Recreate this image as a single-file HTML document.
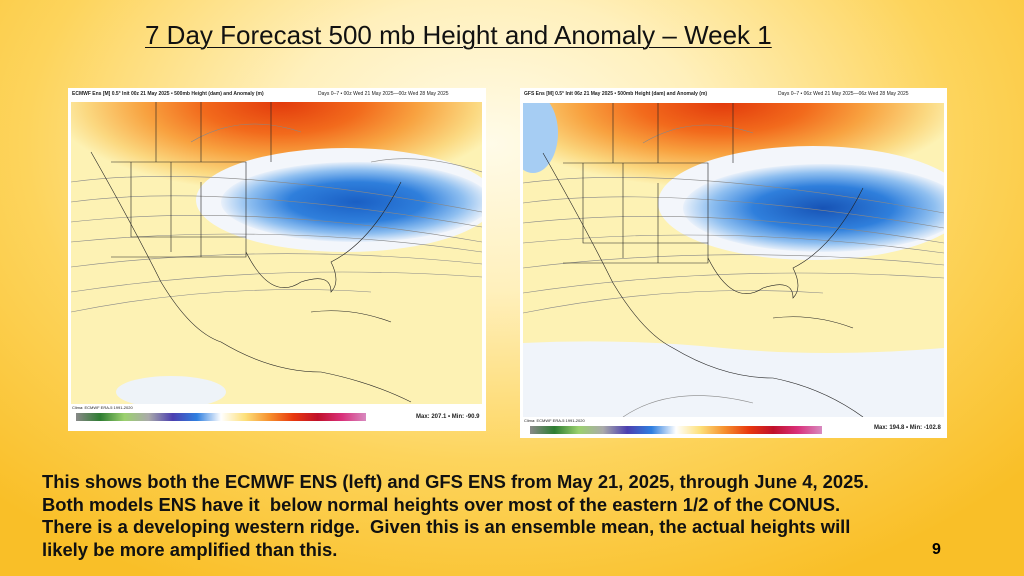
<!DOCTYPE html>
<html><head><meta charset="utf-8"><style>
html,body{margin:0;padding:0}
body{width:1024px;height:576px;overflow:hidden;position:relative;
background:radial-gradient(ellipse 70% 85% at 48% 25%,#fffbe8 0%,#fff0bc 30%,#fdd45c 65%,#f9bf28 100%);
font-family:"Liberation Sans",sans-serif}
.title{position:absolute;left:145px;top:20px;font-size:26px;color:#111;white-space:nowrap}
.title span{text-decoration:underline;text-underline-offset:3px;text-decoration-thickness:1px}
.frame{position:absolute;background:#fff}
.hdr{position:absolute;font-size:5px;color:#222;white-space:nowrap;font-weight:bold}
.body{position:absolute;left:42px;top:471px;font-weight:bold;font-size:18.4px;line-height:22.5px;color:#111;width:960px;white-space:nowrap}
.num{position:absolute;left:932px;top:541px;font-weight:bold;font-size:16px}
</style></head><body>
<div class="title"><span>7 Day Forecast 500 mb Height and Anomaly – Week 1</span></div>

<div class="frame" style="left:68px;top:88px;width:418px;height:343px">
<div class="hdr" style="left:4px;top:3px">ECMWF Ens [M] 0.5° Init 00z 21 May 2025 • 500mb Height (dam) and Anomaly (m)</div>
<div class="hdr" style="left:250px;top:3px;font-weight:normal">Days 0–7 • 00z Wed 21 May 2025—00z Wed 28 May 2025</div>
<svg style="position:absolute;left:3px;top:14px" width="411" height="302" viewBox="0 0 411 302">
<defs>
<radialGradient id="r1" cx="0.5" cy="0.5" r="0.5"><stop offset="0" stop-color="#e23a0c"/><stop offset="0.35" stop-color="#f26a1c"/><stop offset="0.6" stop-color="#f8a240"/><stop offset="0.85" stop-color="#fbd880"/><stop offset="1" stop-color="#fdf2b4"/></radialGradient>
<radialGradient id="b1" cx="0.5" cy="0.5" r="0.5"><stop offset="0" stop-color="#1a5fc4"/><stop offset="0.5" stop-color="#2f7fdc"/><stop offset="0.8" stop-color="#8fbff0"/><stop offset="1" stop-color="#e8f0fa"/></radialGradient>
</defs>
<rect width="411" height="302" fill="#fdf2b4"/>
<ellipse cx="210" cy="0" rx="230" ry="90" fill="url(#r1)"/>
<ellipse cx="275" cy="98" rx="150" ry="52" fill="#f3f6fb"/>
<ellipse cx="285" cy="100" rx="135" ry="40" fill="url(#b1)"/>
<ellipse cx="100" cy="290" rx="55" ry="16" fill="#eef3f8"/>
<g fill="none" stroke="#888" stroke-width="0.6">
<path d="M0 80 Q150 60 411 110"/><path d="M0 100 Q150 80 411 125"/><path d="M0 120 Q180 100 411 140"/><path d="M0 140 Q200 120 411 150"/><path d="M0 165 Q200 140 411 162"/><path d="M0 190 Q200 160 411 175"/><path d="M0 210 Q150 180 300 190"/><path d="M120 40 Q170 10 230 30"/><path d="M300 60 Q350 50 411 70"/>
</g>
<g fill="none" stroke="#222" stroke-width="0.6">
<path d="M40 60 L175 60 L175 155 L40 155"/><path d="M60 60 L60 135 L175 135"/><path d="M100 60 L100 150"/><path d="M130 80 L130 155"/>
<path d="M20 50 Q60 120 90 180 Q120 230 150 240 Q200 270 250 270 Q300 280 340 300"/>
<path d="M175 150 Q200 200 230 180 Q260 170 260 190 Q270 180 260 160 Q300 140 330 80"/>
<path d="M240 210 Q280 205 320 220"/><path d="M130 0 L130 60 M85 0 L85 60 M200 0 L200 60"/>
</g>
</svg>
<div class="hdr" style="left:4px;top:317px;font-weight:normal;font-size:4px">Clima: ECMWF ERA-5 1991-2020</div>
<div style="position:absolute;left:8px;top:325px;width:290px;height:8px;background:linear-gradient(90deg,#888,#2e7d32,#9bd16e,#aaa,#4b3fb0,#2f7fe0,#fff,#fde07a,#f6902e,#e8380e,#c0102a,#d9307a,#d88ac0)"></div>
<div class="hdr" style="left:348px;top:326px;font-size:6px">Max: 207.1 • Min: -90.9</div>
</div>

<div class="frame" style="left:520px;top:88px;width:427px;height:350px">
<div class="hdr" style="left:4px;top:3px">GFS Ens [M] 0.5° Init 06z 21 May 2025 • 500mb Height (dam) and Anomaly (m)</div>
<div class="hdr" style="left:258px;top:3px;font-weight:normal">Days 0–7 • 06z Wed 21 May 2025—06z Wed 28 May 2025</div>
<svg style="position:absolute;left:3px;top:15px" width="421" height="314" viewBox="0 0 421 314">
<defs>
<radialGradient id="r2" cx="0.5" cy="0.5" r="0.5"><stop offset="0" stop-color="#e23a0c"/><stop offset="0.35" stop-color="#f26a1c"/><stop offset="0.6" stop-color="#f8a240"/><stop offset="0.85" stop-color="#fbd880"/><stop offset="1" stop-color="#fdf2b4"/></radialGradient>
<radialGradient id="b2" cx="0.5" cy="0.5" r="0.5"><stop offset="0" stop-color="#1753b5"/><stop offset="0.5" stop-color="#2f7fdc"/><stop offset="0.8" stop-color="#8fbff0"/><stop offset="1" stop-color="#e8f0fa"/></radialGradient>
</defs>
<rect width="421" height="314" fill="#f0f4fa"/>
<path d="M0 20 Q30 10 60 0 L421 0 L421 245 Q300 255 200 245 Q100 235 0 240 Z" fill="#fdf2b4"/>
<ellipse cx="200" cy="0" rx="240" ry="85" fill="url(#r2)"/>
<ellipse cx="290" cy="100" rx="155" ry="57" fill="#f3f6fb"/>
<ellipse cx="300" cy="105" rx="140" ry="44" fill="url(#b2)"/>
<ellipse cx="10" cy="30" rx="25" ry="40" fill="#a6cdf3"/>
<g fill="none" stroke="#888" stroke-width="0.6">
<path d="M0 80 Q150 60 421 110"/><path d="M0 100 Q150 80 421 125"/><path d="M0 120 Q180 100 421 140"/><path d="M0 140 Q200 120 421 150"/><path d="M0 165 Q200 140 421 162"/><path d="M0 190 Q200 160 421 175"/><path d="M0 210 Q150 180 300 190"/><path d="M100 314 Q150 280 230 300"/><path d="M120 40 Q170 10 230 30"/>
</g>
<g fill="none" stroke="#222" stroke-width="0.6">
<path d="M40 60 L185 60 L185 160 L40 160"/><path d="M60 60 L60 140 L185 140"/><path d="M100 60 L100 155"/><path d="M135 80 L135 160"/>
<path d="M20 50 Q60 120 90 180 Q120 230 150 245 Q200 275 250 275 Q300 285 340 314"/>
<path d="M185 155 Q210 205 240 185 Q270 175 270 195 Q280 185 270 165 Q310 145 340 85"/>
<path d="M250 215 Q290 210 330 225"/><path d="M135 0 L135 60 M90 0 L90 60 M210 0 L210 60"/>
</g>
</svg>
<div class="hdr" style="left:4px;top:330px;font-weight:normal;font-size:4px">Clima: ECMWF ERA-5 1991-2020</div>
<div style="position:absolute;left:10px;top:338px;width:292px;height:8px;background:linear-gradient(90deg,#888,#2e7d32,#9bd16e,#aaa,#4b3fb0,#2f7fe0,#fff,#fde07a,#f6902e,#e8380e,#c0102a,#d9307a,#d88ac0)"></div>
<div class="hdr" style="left:354px;top:337px;font-size:6px">Max: 194.8 • Min: -102.8</div>
</div>

<div class="body">This shows both the ECMWF ENS (left) and GFS ENS from May 21, 2025, through June 4, 2025.<br>Both models ENS have it&nbsp; below normal heights over most of the eastern 1/2 of the CONUS.<br>There is a developing western ridge.&nbsp; Given this is an ensemble mean, the actual heights will<br>likely be more amplified than this.</div>
<div class="num">9</div>
</body></html>
